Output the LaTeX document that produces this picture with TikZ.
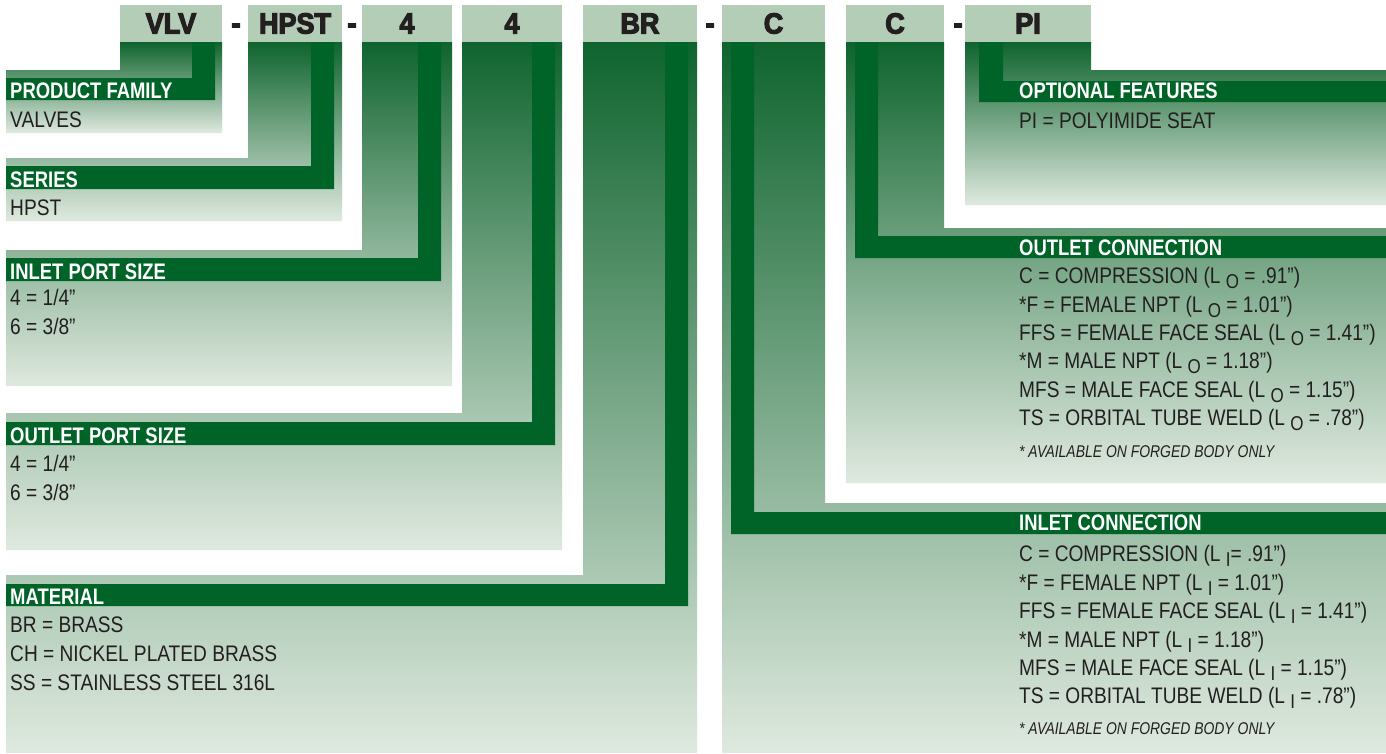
\documentclass[tikz,border=0pt]{standalone}
\usepackage{fontspec}
\newfontfamily\condfont{Liberation Sans}[FakeStretch=0.85]
\newfontfamily\notefont{Liberation Sans}[FakeStretch=0.82]
\newfontfamily\headfont{Liberation Sans}[FakeStretch=0.82]
\newfontfamily\codefont{Liberation Sans}[FakeStretch=0.93,FakeBold=4]
\definecolor{bargreen}{HTML}{006328}
\definecolor{codegreen}{HTML}{B4CDB6}
\definecolor{shadetop}{HTML}{0F642E}
\definecolor{shademid}{HTML}{5C9466}
\definecolor{shadebot}{HTML}{DFE9DF}
\definecolor{inkgray}{HTML}{231F20}
\newcommand{\lsub}[1]{\raisebox{-5.5pt}{\fontsize{20}{20}\selectfont #1}}
\tikzset{
  codebox/.style={fill=codegreen,minimum height=37pt,inner sep=0pt,text=inkgray,
    font=\codefont\bfseries\fontsize{29}{29}\selectfont},
  codedash/.style={anchor=base,inner sep=0pt,text=inkgray,
    font=\codefont\bfseries\fontsize{29}{29}\selectfont},
  panel/.style={top color=shadetop,middle color=shademid,bottom color=shadebot},
  band/.style={fill=bargreen},
  headtxt/.style={anchor=base west,inner sep=0pt,text=white,
    font=\headfont\bfseries\fontsize{22.5}{22.5}\selectfont},
  bodytxt/.style={anchor=base west,inner sep=0pt,text=inkgray,
    font=\condfont\fontsize{22.5}{22.5}\selectfont},
  notetxt/.style={anchor=base west,inner sep=0pt,text=inkgray,
    font=\notefont\itshape\fontsize{17}{17}\selectfont}
}

\begin{document}
\begin{tikzpicture}[x=1pt,y=-1pt]
\useasboundingbox[fill=white] (0,0) rectangle (1386,753);
% shaded panels, one per code field
\shade[panel] (120,42) -- (222,42) -- (222,133) -- (6,133) -- (6,70) -- (120,70) -- cycle;
\shade[panel] (248,42) -- (342,42) -- (342,221) -- (6,221) -- (6,158) -- (248,158) -- cycle;
\shade[panel] (362,42) -- (452,42) -- (452,386) -- (6,386) -- (6,250) -- (362,250) -- cycle;
\shade[panel] (462,42) -- (562,42) -- (562,550) -- (6,550) -- (6,413) -- (462,413) -- cycle;
\shade[panel] (583,42) -- (697,42) -- (697,753) -- (6,753) -- (6,575) -- (583,575) -- cycle;
\shade[panel] (722,42) -- (825,42) -- (825,503) -- (1386,503) -- (1386,753) -- (722,753) -- cycle;
\shade[panel] (846,42) -- (944,42) -- (944,228) -- (1386,228) -- (1386,483) -- (846,483) -- cycle;
\shade[panel] (965,42) -- (1091,42) -- (1091,70) -- (1386,70) -- (1386,205) -- (965,205) -- cycle;
% dark bands running down into the heading bars
\fill[band] (192,42) -- (215,42) -- (215,100) -- (6,100) -- (6,78) -- (192,78) -- cycle;
\fill[band] (311,42) -- (334,42) -- (334,189) -- (6,189) -- (6,166) -- (311,166) -- cycle;
\fill[band] (418,42) -- (441,42) -- (441,281) -- (6,281) -- (6,258) -- (418,258) -- cycle;
\fill[band] (532,42) -- (555,42) -- (555,445) -- (6,445) -- (6,422) -- (532,422) -- cycle;
\fill[band] (665,42) -- (688,42) -- (688,606) -- (6,606) -- (6,584) -- (665,584) -- cycle;
\fill[band] (731,42) -- (754,42) -- (754,512) -- (1386,512) -- (1386,534) -- (731,534) -- cycle;
\fill[band] (855,42) -- (878,42) -- (878,236) -- (1386,236) -- (1386,258) -- (855,258) -- cycle;
\fill[band] (979,42) -- (1003,42) -- (1003,81) -- (1386,81) -- (1386,102) -- (979,102) -- cycle;
% part number fields
\node[codebox,minimum width=102pt] (vlv) at (171,23.5) {VLV};
\node[codebox,minimum width=94pt] (hpst) at (295,23.5) {HPST};
\node[codebox,minimum width=90pt] (inport) at (407,23.5) {4};
\node[codebox,minimum width=100pt] (outport) at (512,23.5) {4};
\node[codebox,minimum width=114pt] (matl) at (640,23.5) {BR};
\node[codebox,minimum width=103pt] (inconn) at (773.5,23.5) {C};
\node[codebox,minimum width=98pt] (outconn) at (895,23.5) {C};
\node[codebox,minimum width=126pt] (optf) at (1028,23.5) {PI};
\node[codedash] (dash1) at (236,33) {-};
\node[codedash] (dash2) at (352,33) {-};
\node[codedash] (dash3) at (710,33) {-};
\node[codedash] (dash4) at (958,33) {-};
% left column texts
\node[headtxt] (pfHead) at (10,98) {PRODUCT FAMILY};
\node[bodytxt] (pfA) at (10,127) {VALVES};
\node[headtxt] (serHead) at (10,187) {SERIES};
\node[bodytxt] (serA) at (10,215) {HPST};
\node[headtxt] (ipHead) at (10,279) {INLET PORT SIZE};
\node[bodytxt] (ipA) at (10,305) {4 = 1/4”};
\node[bodytxt] (ipB) at (10,334) {6 = 3/8”};
\node[headtxt] (opHead) at (10,443) {OUTLET PORT SIZE};
\node[bodytxt] (opA) at (10,471) {4 = 1/4”};
\node[bodytxt] (opB) at (10,500) {6 = 3/8”};
\node[headtxt] (matHead) at (10,604) {MATERIAL};
\node[bodytxt] (matA) at (10,632) {BR = BRASS};
\node[bodytxt] (matB) at (10,661) {CH = NICKEL PLATED BRASS};
\node[bodytxt] (matC) at (10,690) {SS = STAINLESS STEEL 316L};
% right column texts
\node[headtxt] (ofHead) at (1019,98) {OPTIONAL FEATURES};
\node[bodytxt] (ofA) at (1019,128) {PI = POLYIMIDE SEAT};
\node[headtxt] (ocHead) at (1019,255) {OUTLET CONNECTION};
\node[bodytxt] (ocA) at (1019,283) {C = COMPRESSION (L \lsub{O} = .91”)};
\node[bodytxt] (ocB) at (1019,312) {*F = FEMALE NPT (L \lsub{O} = 1.01”)};
\node[bodytxt] (ocC) at (1019,340) {FFS = FEMALE FACE SEAL (L \lsub{O} = 1.41”)};
\node[bodytxt] (ocD) at (1019,368) {*M = MALE NPT (L \lsub{O} = 1.18”)};
\node[bodytxt] (ocE) at (1019,397) {MFS = MALE FACE SEAL (L \lsub{O} = 1.15”)};
\node[bodytxt] (ocF) at (1019,425) {TS = ORBITAL TUBE WELD (L \lsub{O} = .78”)};
\node[notetxt] (ocNote) at (1019,457) {* AVAILABLE ON FORGED BODY ONLY};
\node[headtxt] (icHead) at (1019,530) {INLET CONNECTION};
\node[bodytxt] (icA) at (1019,561) {C = COMPRESSION (L \lsub{I}= .91”)};
\node[bodytxt] (icB) at (1019,590) {*F = FEMALE NPT (L \lsub{I} = 1.01”)};
\node[bodytxt] (icC) at (1019,618) {FFS = FEMALE FACE SEAL (L \lsub{I} = 1.41”)};
\node[bodytxt] (icD) at (1019,647) {*M = MALE NPT (L \lsub{I} = 1.18”)};
\node[bodytxt] (icE) at (1019,675) {MFS = MALE FACE SEAL (L \lsub{I} = 1.15”)};
\node[bodytxt] (icF) at (1019,703) {TS = ORBITAL TUBE WELD (L \lsub{I} = .78”)};
\node[notetxt] (icNote) at (1019,734) {* AVAILABLE ON FORGED BODY ONLY};
\end{tikzpicture}
\end{document}
